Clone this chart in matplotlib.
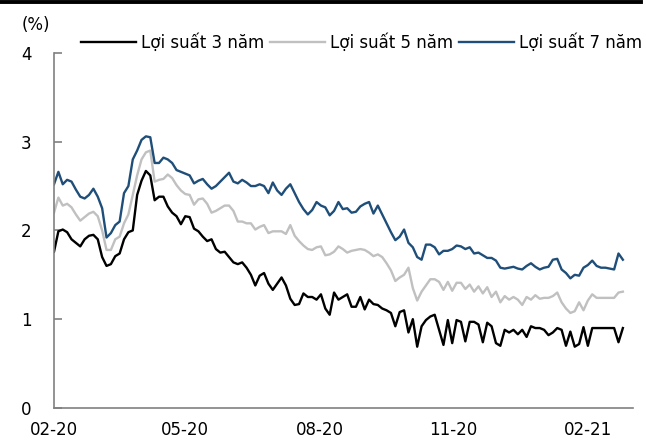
"""Vietnam government bond yields (3y, 5y, 7y), 02-2020 to 02-2021."""

import matplotlib

matplotlib.use("Agg")
import matplotlib.pyplot as plt
import matplotlib.dates as mdates
from matplotlib.lines import Line2D
import pandas as pd


START_DATE = "2020-02-01"
STEP = "3D"

YIELD_3Y = [
    1.76, 1.99, 2.01, 1.98, 1.90, 1.86, 1.82, 1.90, 1.94, 1.95,
    1.90, 1.70, 1.60, 1.62, 1.71, 1.74, 1.90, 1.98, 2.00, 2.40,
    2.56, 2.67, 2.62, 2.34, 2.38, 2.38, 2.27, 2.20, 2.16, 2.07,
    2.16, 2.15, 2.02, 1.99, 1.93, 1.88, 1.90, 1.79, 1.75, 1.76,
    1.70, 1.64, 1.62, 1.64, 1.58, 1.50, 1.38, 1.49, 1.52, 1.40,
    1.33, 1.40, 1.47, 1.38, 1.23, 1.16, 1.17, 1.29, 1.25, 1.25,
    1.22, 1.28, 1.12, 1.05, 1.30, 1.22, 1.25, 1.28, 1.14, 1.14,
    1.25, 1.11, 1.22, 1.17, 1.16, 1.12, 1.10, 1.07, 0.92, 1.08,
    1.10, 0.85, 1.00, 0.69, 0.92, 0.99, 1.03, 1.05, 0.88, 0.71,
    0.99, 0.73, 0.99, 0.97, 0.75, 0.97, 0.97, 0.94, 0.74, 0.96,
    0.92, 0.73, 0.70, 0.88, 0.85, 0.88, 0.83, 0.88, 0.80, 0.92,
    0.90, 0.90, 0.88, 0.82, 0.85, 0.90, 0.88, 0.70, 0.86, 0.69,
    0.72, 0.91, 0.70, 0.90, 0.90, 0.90, 0.90, 0.90, 0.90, 0.74,
    0.90,
]

YIELD_5Y = [
    2.20, 2.37, 2.28, 2.30, 2.26, 2.18, 2.11, 2.15, 2.19, 2.21,
    2.16, 2.00, 1.78, 1.78, 1.90, 1.93, 2.08, 2.18, 2.40, 2.62,
    2.80, 2.88, 2.90, 2.55, 2.57, 2.58, 2.63, 2.59, 2.51, 2.45,
    2.41, 2.40, 2.29, 2.35, 2.36, 2.30, 2.20, 2.22, 2.25, 2.28,
    2.28, 2.22, 2.10, 2.10, 2.08, 2.08, 2.01, 2.04, 2.06, 1.97,
    1.99, 1.99, 1.99, 1.96, 2.06, 1.94, 1.88, 1.83, 1.79, 1.78,
    1.81, 1.82, 1.72, 1.73, 1.76, 1.82, 1.79, 1.75, 1.77, 1.78,
    1.79, 1.78, 1.75, 1.71, 1.73, 1.70, 1.63, 1.55, 1.43, 1.47,
    1.50, 1.58, 1.35, 1.21, 1.31, 1.38, 1.45, 1.45, 1.42, 1.33,
    1.42, 1.32, 1.41, 1.41, 1.34, 1.39, 1.31, 1.37, 1.29, 1.36,
    1.25, 1.31, 1.19, 1.26, 1.22, 1.25, 1.22, 1.16, 1.25, 1.22,
    1.27, 1.23, 1.24, 1.24, 1.26, 1.30, 1.19, 1.12, 1.07, 1.09,
    1.19, 1.10, 1.21, 1.28, 1.24, 1.24, 1.24, 1.24, 1.24, 1.30,
    1.31,
]

YIELD_7Y = [
    2.52, 2.66, 2.52, 2.57, 2.55, 2.46, 2.38, 2.36, 2.40, 2.47,
    2.38, 2.25, 1.92, 1.97, 2.06, 2.10, 2.42, 2.50, 2.80, 2.90,
    3.02, 3.06, 3.05, 2.76, 2.76, 2.82, 2.80, 2.76, 2.68, 2.66,
    2.64, 2.62, 2.53, 2.56, 2.58, 2.52, 2.47, 2.50, 2.55, 2.60,
    2.65, 2.55, 2.53, 2.57, 2.54, 2.50, 2.50, 2.52, 2.50, 2.42,
    2.54, 2.45, 2.40, 2.47, 2.52, 2.42, 2.32, 2.24, 2.18, 2.23,
    2.32, 2.28, 2.26, 2.17, 2.22, 2.32, 2.24, 2.25, 2.20, 2.21,
    2.27, 2.30, 2.32, 2.19, 2.28, 2.18, 2.08, 1.98, 1.89, 1.93,
    2.01, 1.86, 1.81, 1.70, 1.67, 1.84, 1.84, 1.81, 1.73, 1.77,
    1.77, 1.79, 1.83, 1.82, 1.79, 1.81, 1.74, 1.75, 1.72, 1.69,
    1.69, 1.66, 1.58, 1.57, 1.58, 1.59, 1.57, 1.56, 1.60, 1.63,
    1.59, 1.56, 1.58, 1.59, 1.67, 1.68, 1.56, 1.52, 1.46, 1.50,
    1.49, 1.58, 1.61, 1.66, 1.60, 1.58, 1.58, 1.57, 1.56, 1.74,
    1.67,
]

SERIES_LABELS = ["Lợi suất 3 năm", "Lợi suất 5 năm", "Lợi suất 7 năm"]
SERIES_COLORS = ["#000000", "#c0c0c0", "#1f4e79"]
TICK_DATES = ["2020-02-01", "2020-05-01", "2020-08-01", "2020-11-01", "2021-02-01"]
Y_TICKS = [0, 1, 2, 3, 4]


def main() -> None:
    dates = pd.date_range(START_DATE, periods=len(YIELD_3Y), freq=STEP)

    plt.rcParams["font.family"] = ["DejaVu Sans"]
    fig = plt.figure(figsize=(6.46, 4.41), dpi=100)
    ax = fig.add_axes([0.0836, 0.075, 0.8964, 0.805])

    handles = []
    for values, label, color in zip([YIELD_3Y, YIELD_5Y, YIELD_7Y], SERIES_LABELS, SERIES_COLORS):
        (line,) = ax.plot(dates, values, color=color, linewidth=1.7, label=label, solid_joinstyle="round")
        handles.append(line)

    ax.set_ylim(0, 4)
    ax.set_yticks(Y_TICKS)
    ax.set_xlim(pd.Timestamp("2020-02-01"), pd.Timestamp("2021-03-04"))
    ax.set_xticks(pd.to_datetime(TICK_DATES))
    ax.xaxis.set_major_formatter(mdates.DateFormatter("%m-%y"))

    for side in ["top", "right"]:
        ax.spines[side].set_visible(False)
    for side in ["left", "bottom"]:
        ax.spines[side].set_color("#808080")
        ax.spines[side].set_linewidth(1.2)

    ax.tick_params(axis="y", direction="in", length=6, width=1.2, color="#808080", pad=16, labelsize=12)
    ax.tick_params(axis="x", length=0, pad=9.5, labelsize=12)

    fig.text(0.034, 0.943, "(%)", fontsize=12, va="center", ha="left")

    fig.legend(
        handles=handles,
        loc="center right",
        bbox_to_anchor=(0.994, 0.9025),
        ncol=3,
        frameon=False,
        fontsize=12,
        handlelength=3.3,
        handletextpad=0.3,
        columnspacing=0.36,
        borderaxespad=0.0,
        borderpad=0.0,
    )

    fig.add_artist(Line2D([0.0, 0.992], [0.9955, 0.9955], color="black", linewidth=2.8, transform=fig.transFigure))

    fig.savefig("out.png", dpi=100)
    plt.close(fig)


if __name__ == "__main__":
    main()
